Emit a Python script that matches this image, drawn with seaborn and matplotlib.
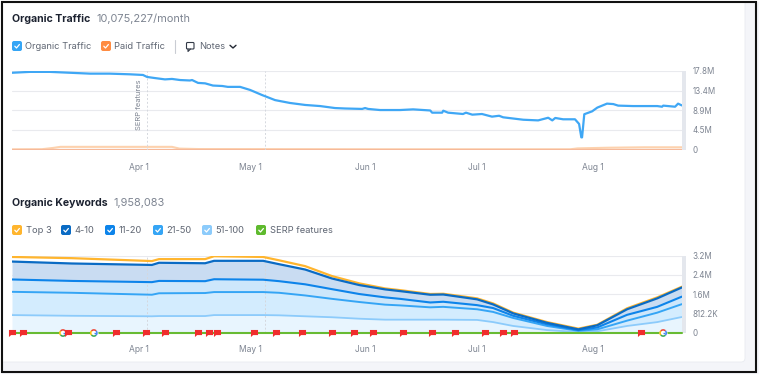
import numpy as np
import pandas as pd
import matplotlib
matplotlib.use("Agg")
import matplotlib.pyplot as plt
from matplotlib.patches import Rectangle, FancyBboxPatch
from matplotlib.path import Path
from matplotlib.lines import Line2D
import seaborn as sns

W, H = 760, 375

month_days = [34, 64, 95, 125, 156]
month_labels = ["Apr 1", "May 1", "Jun 1", "Jul 1", "Aug 1"]

traffic_days = [0, 4.8, 10.2, 15.6, 21, 26.3, 31.7, 35.2, 36.3, 38.4, 41.1, 43, 45.2, 47.8, 48.4, 50,
                51.9, 54, 56.5, 58, 61.3, 64, 67.2, 70.7, 74.7, 78.8, 82.8, 86.8, 89.5, 94.1, 94.9, 95.7,
                98.9, 104.3, 107.8, 112.4, 112.9, 115.6, 115.9, 117.2, 121.2, 122, 123.7, 126.3, 129,
                130.9, 132, 137.4, 141.4, 144.1, 145.2, 146, 148.1, 151.3, 152.4, 153, 153.2, 153.8,
                155.9, 157.3, 159.9, 161.6, 162.9, 166.9, 173.4, 174.7, 175, 178.2, 179, 180]
organic_traffic = [17.4, 17.6, 17.6, 17.4, 17.2, 17.2, 17.05, 16.9, 16.45, 16.2, 15.9, 16.0, 15.75, 15.65, 15.75, 15.1,
                   15.0, 14.5, 14.4, 14.2, 14.2, 13.5, 12.35, 11.2, 10.55, 10.1, 9.85, 9.4, 9.3, 9.2, 9.4, 9.2,
                   8.95, 8.95, 9.1, 8.85, 8.35, 8.35, 8.8, 8.35, 8.05, 8.35, 7.9, 8.05, 7.45,
                   7.65, 7.3, 6.75, 6.6, 7.2, 6.6, 7.15, 6.85, 6.85, 5.8, 2.75, 2.75, 8.0,
                   8.65, 9.5, 10.4, 10.3, 9.95, 9.85, 9.85, 9.7, 9.95, 9.7, 10.4, 10.0]
paid_days = [0, 8, 11, 13, 43, 45, 50, 100, 150, 152, 160, 170, 180]
paid_traffic = [0.03, 0.06, 0.35, 0.6, 0.6, 0.2, 0.1, 0.04, 0.04, 0.25, 0.4, 0.5, 0.5]

kw_days = [0, 16.1, 37.6, 39.5, 51.9, 54.3, 67.5, 71.8, 78.8, 86, 93.3, 100.3, 104.3, 112.4, 115.9,
           125, 129.3, 134.7, 143.8, 152.2, 157.3, 165.3, 173.4, 180]
top_3 = [3.14, 3.09, 2.97, 3.05, 3.05, 3.17, 3.14, 3.0, 2.76, 2.35, 2.05, 1.84, 1.77, 1.61, 1.62,
         1.43, 1.22, 0.84, 0.45, 0.18, 0.34, 1.02, 1.47, 1.91]
kw_4_10 = [2.95, 2.87, 2.81, 2.90, 2.88, 2.98, 2.98, 2.84, 2.62, 2.25, 1.98, 1.80, 1.73, 1.58, 1.59,
           1.39, 1.18, 0.81, 0.42, 0.15, 0.32, 0.98, 1.43, 1.88]
kw_11_20 = [2.21, 2.15, 2.10, 2.15, 2.14, 2.22, 2.20, 2.14, 2.01, 1.81, 1.61, 1.47, 1.41, 1.26, 1.29,
            1.15, 1.03, 0.71, 0.36, 0.12, 0.23, 0.75, 1.08, 1.50]
kw_21_50 = [1.70, 1.66, 1.58, 1.64, 1.65, 1.69, 1.69, 1.66, 1.55, 1.41, 1.28, 1.17, 1.14, 1.06, 1.08,
            0.98, 0.87, 0.62, 0.29, 0.09, 0.15, 0.51, 0.84, 1.19]
kw_51_100 = [0.74, 0.71, 0.69, 0.70, 0.70, 0.74, 0.74, 0.73, 0.69, 0.65, 0.59, 0.55, 0.55, 0.55, 0.55,
             0.54, 0.45, 0.29, 0.12, 0.04, 0.07, 0.29, 0.45, 0.66]
serp_features = [0.0] * len(kw_days)

flag_days = [0, 3, 15, 28, 36, 41.1, 50, 53, 55, 65, 71, 78, 86, 92, 97, 105, 113, 119, 127, 132, 135, 169]
google_days = [13.7, 22, 175]

traffic_ticks = [0, 4.45, 8.9, 13.35, 17.8]
traffic_tick_labels = ["0", "4.5M", "8.9M", "13.4M", "17.8M"]
kw_ticks = [0, 0.8122, 1.6, 2.4, 3.2]
kw_tick_labels = ["0", "812.2K", "1.6M", "2.4M", "3.2M"]

sns.set_theme(style="white")
plt.rcParams["font.family"] = ["Inter", "DejaVu Sans"]

fig = plt.figure(figsize=(W / 100, H / 100), dpi=100, facecolor="white")


def px_axes(x0, y0, x1, y1):
    return fig.add_axes([x0 / W, 1 - y1 / H, (x1 - x0) / W, (y1 - y0) / H])


bg = fig.add_axes([0, 0, 1, 1], zorder=-5)
bg.set_xlim(0, W)
bg.set_ylim(H, 0)
bg.axis("off")
bg.add_patch(Rectangle((0, 0), W, H, fc="#f4f5f9", ec="none"))
bg.add_patch(FancyBboxPatch((-10, -10), 755, 372, boxstyle="round,pad=0,rounding_size=4",
                            fc="white", ec="#e9ebf0", lw=0.6))
bg.add_patch(Rectangle((0, 0), W, H, fc="none", ec="white", lw=2))
bg.add_patch(Rectangle((2, 2), 754, 370, fc="none", ec="#111111", lw=1.5))


def checkbox(x, y, color):
    bg.add_patch(FancyBboxPatch((x, y), 10, 10, boxstyle="round,pad=0,rounding_size=2", fc=color, ec="none"))
    bg.add_line(Line2D([x + 2.8, x + 4.5, x + 7.4], [y + 5.2, y + 7, y + 3.5], color="white", lw=0.9))


def label(x, y, s, color="#5f6673", size=6.7, **kw):
    bg.text(x, y, s, color=color, fontsize=size, va="center", ha="left", **kw)


TITLE = "#1c2230"
GREY = "#7d8491"
label(12, 18.8, "Organic Traffic", TITLE, 7.6, fontweight="bold")
label(96, 18.8, "10,075,227/month", GREY, 7.9)
label(12, 203.3, "Organic Keywords", TITLE, 7.6, fontweight="bold")
label(113, 203.3, "1,958,083", GREY, 7.9)

for x, s, c in [(12, "Organic Traffic", "#35a5f5"), (101, "Paid Traffic", "#ff8c42")]:
    checkbox(x, 41, c)
    label(x + 13, 46.3, s)
bg.add_line(Line2D([174.5, 174.5], [40, 53], color="#c9ccd3", lw=0.8))
bg.add_patch(FancyBboxPatch((186.5, 42.5), 7.5, 6.5, boxstyle="round,pad=0,rounding_size=1",
                            fc="white", ec="#333a47", lw=0.8))
bg.add_line(Line2D([188, 188, 190.5], [49, 51.5, 49], color="#333a47", lw=0.8))
label(199, 46.3, "Notes")
bg.add_line(Line2D([230, 233, 236], [45.3, 48, 45.3], color="#222833", lw=1.0))

for x, s, c in [(12, "Top 3", "#ffb52e"), (61, "4-10", "#0a6bc4"), (105, "11-20", "#0d84ea"),
                (153, "21-50", "#35a5f5"), (202, "51-100", "#8ccbfb"), (256, "SERP features", "#5fba2e")]:
    checkbox(x, 225, c)
    label(x + 13.5, 230.3, s)


def style_axes(ax, ticks, labels, top, xpad):
    ax.set_xlim(0, 181)
    ax.set_ylim(0, top)
    ax.set_facecolor("none")
    for s in ax.spines.values():
        s.set_visible(False)
    ax.set_xticks(month_days, month_labels)
    ax.tick_params(axis="x", length=0, labelsize=6.1, labelcolor="#7d8491", pad=xpad)
    ax.yaxis.tick_right()
    ax.set_yticks(ticks, labels)
    ax.tick_params(axis="y", length=0, labelsize=5.8, labelcolor="#7d8491", pad=5)
    ax.set_xlabel("")
    ax.set_ylabel("")
    for t in ticks:
        ax.axhline(t, color="#e9eaee" if t else "#c6c9d0", lw=0.8, zorder=0.5)
    ax.axvspan(180, 181, color="#e4e7ed", lw=0, zorder=4)
    for d in (36.2, 68):
        ax.axvline(d, color="#d5d8de", lw=0.7, ls=(0, (2, 2)), zorder=2)


# --- Organic traffic
ax1 = px_axes(12, 71, 685.5, 149.5)
sns.lineplot(x=paid_days, y=paid_traffic, color="#fdd2ae", lw=1.5, ax=ax1, zorder=2)
ax1.axhline(0.03, color="#f6b99a", lw=0.9, zorder=2)
sns.lineplot(x=traffic_days, y=organic_traffic, color="#3fa7f5", lw=1.6, ax=ax1, zorder=3)
style_axes(ax1, traffic_ticks, traffic_tick_labels, 17.8, 9.5)
ax1.text(34.0, 10.1, "SERP features", rotation=90, fontsize=5.4, color="#7d8491", ha="center", va="center")

# --- Organic keywords
ax2 = px_axes(12, 255.5, 685.5, 333)
kw = pd.DataFrame({"day": kw_days, "Top 3": top_3, "4-10": kw_4_10, "11-20": kw_11_20,
                   "21-50": kw_21_50, "51-100": kw_51_100, "SERP features": serp_features})
ax2.fill_between(kw["day"], kw["4-10"], kw["11-20"], color="#c9dcf2", lw=0, zorder=1)
ax2.fill_between(kw["day"], kw["11-20"], kw["21-50"], color="#cde7fb", lw=0, zorder=1)
ax2.fill_between(kw["day"], kw["21-50"], kw["51-100"], color="#d3ecfe", lw=0, zorder=1)
ax2.fill_between(kw["day"], kw["51-100"], 0, color="#e8f5fe", lw=0, zorder=1)
for name, c, lw in [("51-100", "#8ccbfb", 1.3), ("21-50", "#35a5f5", 1.4), ("11-20", "#0d84ea", 1.5),
                    ("Top 3", "#ffb52e", 1.6), ("4-10", "#0a6bc4", 1.6)]:
    sns.lineplot(data=kw, x="day", y=name, color=c, lw=lw, ax=ax2, zorder=3)
style_axes(ax2, kw_ticks, kw_tick_labels, 3.2, 8.5)
sns.lineplot(data=kw, x="day", y="SERP features", color="#68bb33", lw=1.5, ax=ax2, zorder=5, clip_on=False)
ax2.set_xlabel("")
ax2.set_ylabel("")

flag = Path([(-1, 1), (1, 1), (1, -0.45), (-0.4, -0.45), (-1, -1), (-1, 1)])
ax2.scatter(google_days, [0] * len(google_days), marker="o", s=34, color="white", lw=0, zorder=6, clip_on=False)
for a, b, c in [(-45, 45, "#4285f4"), (45, 140, "#ea4335"), (140, 220, "#fbbc05"), (220, 315, "#34a853")]:
    ax2.scatter(google_days, [0] * len(google_days), marker=Path.arc(a, b), s=20, facecolors="none",
                edgecolors=c, linewidths=1.1, zorder=7, clip_on=False)
ax2.scatter(google_days, [0] * len(google_days), marker=Path([(0, 0), (1, 0)]), s=10, facecolors="none",
            edgecolors="#4285f4", linewidths=1.0, zorder=7, clip_on=False)
ax2.scatter(flag_days, [0.0] * len(flag_days), marker=flag, s=26, color="#f02d2d", lw=0, zorder=8, clip_on=False)

fig.savefig("out.png", dpi=100, facecolor="white")
